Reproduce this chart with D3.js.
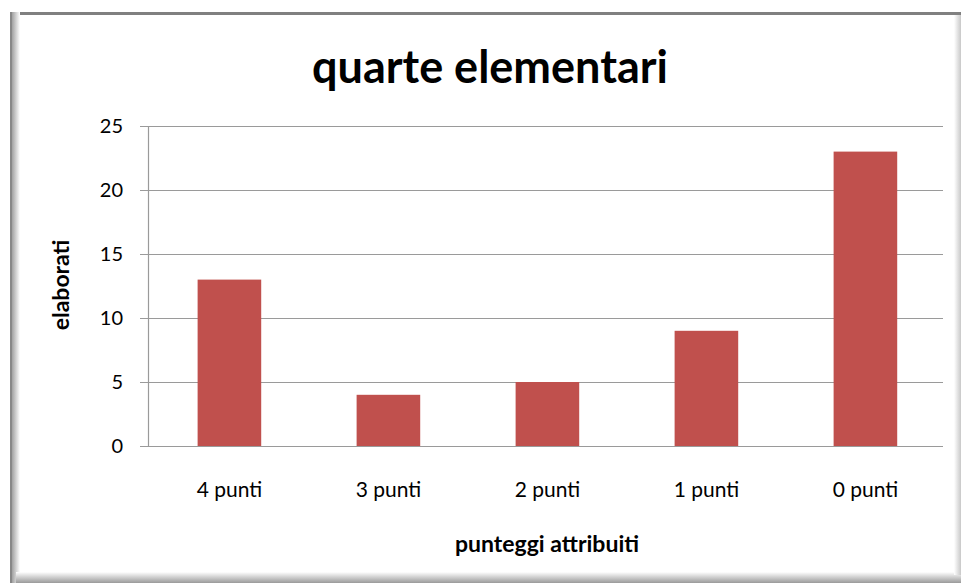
<!DOCTYPE html>
<html>
<head>
<meta charset="utf-8">
<script src="https://cdn.jsdelivr.net/npm/d3@7"></script>
<style>
  body { margin: 0; background: #fff; }
  svg { display: block; font-family: Lato, "Open Sans", sans-serif; }
</style>
</head>
<body>
<svg width="961" height="583"></svg>
<script>
const categories = ['4 punti', '3 punti', '2 punti', '1 punti', '0 punti'];
const values = [13, 4, 5, 9, 23];
const yTicks = [0, 5, 10, 15, 20, 25];

const svg = d3.select('svg');
const width = +svg.attr('width');
const height = +svg.attr('height');

// bevelled frame
const defs = svg.append('defs');
const lg = defs.append('linearGradient').attr('id', 'gl').attr('x1', 0).attr('x2', 1);
lg.append('stop').attr('offset', 0).attr('stop-color', '#8a8a8a');
lg.append('stop').attr('offset', 1).attr('stop-color', '#ffffff');
const bg = defs.append('linearGradient').attr('id', 'gb').attr('x1', 0).attr('x2', 0).attr('y1', 1).attr('y2', 0);
bg.append('stop').attr('offset', 0).attr('stop-color', '#9a9a9a');
bg.append('stop').attr('offset', 1).attr('stop-color', '#ffffff');
const rg = defs.append('linearGradient').attr('id', 'gr').attr('x1', 1).attr('x2', 0);
rg.append('stop').attr('offset', 0).attr('stop-color', '#c8c8c8');
rg.append('stop').attr('offset', 1).attr('stop-color', '#ffffff');

svg.append('rect').attr('x', 10).attr('y', 12).attr('width', 951).attr('height', 3).attr('fill', '#808080');
svg.append('rect').attr('x', 10).attr('y', 12).attr('width', 10).attr('height', 571).attr('fill', 'url(#gl)');
svg.append('rect').attr('x', 10).attr('y', 12).attr('width', 2).attr('height', 571).attr('fill', '#888');
svg.append('rect').attr('x', 16).attr('y', 572).attr('width', 945).attr('height', 11).attr('fill', 'url(#gb)');
svg.append('rect').attr('x', 954).attr('y', 15).attr('width', 7).attr('height', 560).attr('fill', 'url(#gr)');

const margin = { left: 148, right: 18, top: 126, bottom: 137 };
const x = d3.scaleBand()
    .domain(categories)
    .range([margin.left, width - margin.right])
    .paddingInner(0.6)
    .paddingOuter(0.3)
    .align(0.52);
const y = d3.scaleLinear()
    .domain([0, 25])
    .range([height - margin.bottom, margin.top]);

// gridlines
svg.append('g')
  .selectAll('line')
  .data(yTicks)
  .join('line')
    .attr('x1', margin.left - 8)
    .attr('x2', width - margin.right)
    .attr('y1', d => y(d) + 0.5)
    .attr('y2', d => y(d) + 0.5)
    .attr('stroke', '#9a9a9a')
    .attr('stroke-width', 1.2);

// y axis line
svg.append('line')
    .attr('x1', margin.left + 0.5).attr('x2', margin.left + 0.5)
    .attr('y1', y(25)).attr('y2', y(0))
    .attr('stroke', '#9a9a9a')
    .attr('stroke-width', 1.2);

// bars
svg.append('g')
  .selectAll('rect')
  .data(values)
  .join('rect')
    .attr('x', (d, i) => x(categories[i]))
    .attr('y', d => y(d))
    .attr('width', x.bandwidth())
    .attr('height', d => y(0) - y(d))
    .attr('fill', '#c0504d');

// y tick labels
svg.append('g')
  .selectAll('text')
  .data(yTicks)
  .join('text')
    .attr('x', margin.left - 25)
    .attr('y', d => y(d))
    .attr('dy', '0.35em')
    .attr('text-anchor', 'end')
    .attr('font-size', 20)
    .attr('fill', '#000')
    .text(d => d);

// x labels
svg.append('g')
  .selectAll('text')
  .data(categories)
  .join('text')
    .attr('x', d => x(d) + x.bandwidth() / 2)
    .attr('y', 497)
    .attr('text-anchor', 'middle')
    .attr('font-size', 21)
    .text(d => d);

svg.append('text')
    .attr('x', 490)
    .attr('y', 83)
    .attr('text-anchor', 'middle')
    .attr('font-size', 45)
    .attr('font-weight', 'bold')
    .text('quarte elementari');

svg.append('text')
    .attr('transform', `translate(69, 285) rotate(-90)`)
    .attr('text-anchor', 'middle')
    .attr('font-size', 23)
    .attr('font-weight', 'bold')
    .text('elaborati');

svg.append('text')
    .attr('x', 547)
    .attr('y', 552)
    .attr('text-anchor', 'middle')
    .attr('font-size', 23)
    .attr('font-weight', 'bold')
    .text('punteggi attribuiti');
</script>
</body>
</html>
